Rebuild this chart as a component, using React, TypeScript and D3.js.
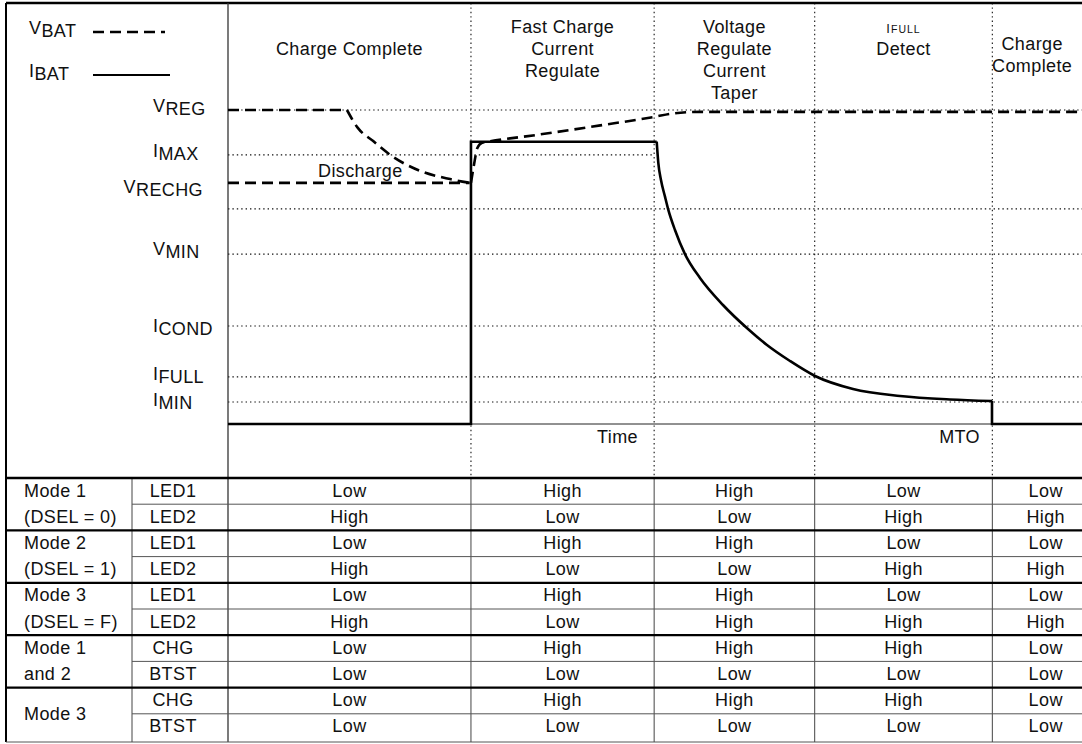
import * as d3 from 'd3'

const FONT = '"Liberation Sans", Arial, Helvetica, sans-serif'

// time axis in arbitrary units, level axis in % of VREG
const PHASE_EDGES = [0, 28.45, 49.9, 68.7, 89.5, 100]
const PHASE_TITLES = [
  ['Charge Complete'],
  ['Fast Charge', 'Current', 'Regulate'],
  ['Voltage', 'Regulate', 'Current', 'Taper'],
  ['IFULL', 'Detect'],
  ['Charge', 'Complete'],
]
const TITLE_BASELINE = [55, 33, 33, 33, 50]

const LEVEL_NAMES = [['V', 'REG'], ['I', 'MAX'], ['V', 'RECHG'], ['V', 'MIN'], ['I', 'COND'], ['I', 'FULL'], ['I', 'MIN']]
const LEVEL_VALUES = [100, 85.7, 76.8, 54.1, 31.2, 15.0, 7.0]
const LABEL_DY = [5, 5, 13, 4, 9, 6, 7]

const GRID_VALUES = [100, 85.7, 68.5, 54.1, 31.2, 15.0, 7.0]
const GRID_END = [100, 49.9, 100, 100, 100, 100, 100]

// IBAT (solid)
const IBAT_RISE: [number, number][] = [[0, 0], [28.45, 0], [28.45, 89.9], [50.2, 89.9]]
const IBAT_TAPER: [number, number][] = [
  [50.2, 89.9], [50.39, 83.1], [50.7, 77.7], [51.17, 72.4], [51.56, 68.2], [52.34, 61.8],
  [53.51, 54.1], [55.27, 46.5], [57.96, 37.9], [60.89, 30.25], [63.11, 25.16], [65.81, 20.06],
  [68.74, 15.29], [73.19, 11.15], [78.69, 8.92], [84.54, 7.8], [89.46, 7.3],
]
const IBAT_END: [number, number][] = [[89.46, 7.3], [89.46, 0], [100, 0]]

// VBAT (dashed)
const VBAT_HOLD: [number, number][] = [[0, 100], [13.93, 100]]
const VBAT_DISCHARGE: [number, number][] = [
  [13.93, 100], [15.2, 94.3], [17.0, 90.1], [19.0, 85.7], [22.8, 80.3], [26.0, 78.0], [28.3, 76.8],
]
const VRECHG_MARK: [number, number][] = [[0, 76.8], [28.3, 76.8]]
const VBAT_CHARGE: [number, number][] = [
  [28.45, 76.8], [28.8, 82.5], [29.2, 87.9], [29.7, 89.5], [30.7, 90.0], [36.5, 92.2],
  [43.6, 95.1], [49.9, 97.8], [52.1, 98.9], [55.3, 99.4], [100, 99.4],
]

const MODES = [['Mode 1', '(DSEL = 0)'], ['Mode 2', '(DSEL = 1)'], ['Mode 3', '(DSEL = F)'], ['Mode 1', 'and 2'], ['Mode 3']]
const SIGNALS = ['LED1', 'LED2', 'LED1', 'LED2', 'LED1', 'LED2', 'CHG', 'BTST', 'CHG', 'BTST']
const STATES = [
  ['Low', 'High', 'High', 'Low', 'Low'],
  ['High', 'Low', 'Low', 'High', 'High'],
  ['Low', 'High', 'High', 'Low', 'Low'],
  ['High', 'Low', 'Low', 'High', 'High'],
  ['Low', 'High', 'High', 'Low', 'Low'],
  ['High', 'Low', 'High', 'High', 'High'],
  ['Low', 'High', 'High', 'High', 'Low'],
  ['Low', 'Low', 'Low', 'Low', 'Low'],
  ['Low', 'High', 'High', 'High', 'Low'],
  ['Low', 'Low', 'Low', 'Low', 'Low'],
]

const W = 1082
const H = 744
const LEFT = 6
const TOP = 3
const PLOT_BOTTOM = 478
const MODE_COL = 132

export default function App() {
  const x = d3.scaleLinear().domain([0, 100]).range([228, 1082])
  const y = d3.scaleLinear().domain([0, 100]).range([424, 110])
  const rowY = d3.scaleBand<number>().domain(d3.range(SIGNALS.length)).range([PLOT_BOTTOM, 740])
  const rh = rowY.bandwidth()

  const line = d3.line<[number, number]>().x(d => x(d[0])).y(d => y(d[1]))
  const smooth = d3.line<[number, number]>().x(d => x(d[0])).y(d => y(d[1])).curve(d3.curveMonotoneX)

  const colCenter = (i: number) => (x(PHASE_EDGES[i]) + x(PHASE_EDGES[i + 1])) / 2
  const tableCenter = (i: number) => i === 4 ? (x(PHASE_EDGES[4]) + x(102)) / 2 : colCenter(i)
  const headerCenter = (i: number) => i === 4 ? colCenter(i) - 5 : colCenter(i)

  const dotted = { stroke: '#111', strokeWidth: 1.1, strokeDasharray: '1.4,3', fill: 'none' }
  const dashed = { stroke: '#000', strokeWidth: 2.6, strokeDasharray: '11,6', fill: 'none' }
  const txt = { fontFamily: FONT, fontSize: 18, letterSpacing: 0.4, fill: '#111' }

  let modeRow = 0
  const modeStarts = MODES.map(m => {
    const start = modeRow
    modeRow += 2
    return { start, lines: m }
  })

  return (
    <svg width={W} height={H} style={{ position: 'absolute', left: 0, top: 0, background: '#fff' }}>
      <rect x={0} y={0} width={W} height={H} fill="#fff" />

      {/* grid */}
      {GRID_VALUES.map((v, i) => (
        <line key={'g' + i} x1={x(0)} x2={x(GRID_END[i])} y1={y(v)} y2={y(v)} {...dotted} />
      ))}
      {PHASE_EDGES.slice(1, 5).map((t, i) => (
        <line key={'v' + i} x1={x(t)} x2={x(t)} y1={TOP} y2={PLOT_BOTTOM} {...dotted} />
      ))}
      <line x1={x(0)} x2={W} y1={y(0)} y2={y(0)} stroke="#222" strokeWidth={1} />

      {/* frame */}
      <line x1={LEFT} x2={W} y1={TOP} y2={TOP} stroke="#000" strokeWidth={2.5} />
      <line x1={LEFT} x2={LEFT} y1={TOP} y2={742} stroke="#000" strokeWidth={2} />
      <line x1={x(0)} x2={x(0)} y1={TOP} y2={742} stroke="#333" strokeWidth={1.3} />
      <line x1={LEFT} x2={W} y1={742} y2={742} stroke="#555" strokeWidth={1} />

      {/* legend */}
      <text x={29} y={34} {...txt}>V<tspan dy={3}>BAT</tspan></text>
      <line x1={93} x2={165} y1={32} y2={32} {...dashed} />
      <text x={29} y={77} {...txt}>I<tspan dy={3}>BAT</tspan></text>
      <line x1={93} x2={170} y1={75} y2={75} stroke="#000" strokeWidth={2.2} />

      {/* level labels */}
      {LEVEL_NAMES.map((n, i) => (
        <text key={'l' + i} x={n[1] === 'RECHG' ? 203 : 153} y={y(LEVEL_VALUES[i]) + LABEL_DY[i] - 3}
          textAnchor={n[1] === 'RECHG' ? 'end' : 'start'} {...txt}>
          {n[0]}<tspan dy={3}>{n[1]}</tspan>
        </text>
      ))}

      {/* phase titles */}
      {PHASE_TITLES.map((lines, i) => lines.map((s, j) => (
        s === 'IFULL' ? (
          <text key={'h' + i + j} x={headerCenter(i)} y={TITLE_BASELINE[i] + j * 22} textAnchor="middle"
            fontFamily={FONT} fill="#111" letterSpacing={1}>
            <tspan fontSize={13}>I</tspan><tspan fontSize={10.5}>FULL</tspan>
          </text>
        ) : (
          <text key={'h' + i + j} x={headerCenter(i)} y={TITLE_BASELINE[i] + j * 22} textAnchor="middle" {...txt}>{s}</text>
        )
      )))}

      {/* traces */}
      <path d={line(VRECHG_MARK) ?? ''} {...dashed} />
      <path d={line(VBAT_HOLD) ?? ''} {...dashed} />
      <path d={smooth(VBAT_DISCHARGE) ?? ''} {...dashed} />
      <path d={smooth(VBAT_CHARGE) ?? ''} {...dashed} />
      <path d={line(IBAT_RISE) ?? ''} stroke="#000" strokeWidth={2.6} fill="none" />
      <path d={smooth(IBAT_TAPER) ?? ''} stroke="#000" strokeWidth={2.6} fill="none" />
      <path d={line(IBAT_END) ?? ''} stroke="#000" strokeWidth={2.6} fill="none" />

      <text x={318} y={177} {...txt}>Discharge</text>
      <text x={638} y={443} textAnchor="end" {...txt}>Time</text>
      <text x={980} y={443} textAnchor="end" {...txt}>MTO</text>

      {/* table */}
      {PHASE_EDGES.slice(1, 5).map((t, i) => (
        <line key={'tv' + i} x1={x(t)} x2={x(t)} y1={PLOT_BOTTOM} y2={742} stroke="#444" strokeWidth={1} />
      ))}
      <line x1={MODE_COL} x2={MODE_COL} y1={PLOT_BOTTOM} y2={742} stroke="#444" strokeWidth={1} />
      {SIGNALS.map((s, r) => {
        const top = rowY(r) ?? 0
        return (
          <g key={'r' + r}>
            {r % 2 === 1 && <line x1={MODE_COL} x2={W} y1={top} y2={top} stroke="#555" strokeWidth={1} />}
            <text x={173} y={top + 18.5} textAnchor="middle" {...txt}>{s}</text>
            {STATES[r].map((v, c) => (
              <text key={c} x={tableCenter(c)} y={top + 18.5} textAnchor="middle" {...txt}>{v}</text>
            ))}
          </g>
        )
      })}
      {modeStarts.map((m, i) => {
        const top = rowY(m.start) ?? 0
        return (
          <g key={'m' + i}>
            <line x1={LEFT} x2={W} y1={top} y2={top} stroke="#000" strokeWidth={i === 0 ? 2.5 : 2.2} />
            {m.lines.length === 2
              ? m.lines.map((s, j) => <text key={j} x={24} y={top + 18.5 + j * rh} {...txt}>{s}</text>)
              : <text x={24} y={top + rh + 6.5} {...txt}>{m.lines[0]}</text>}
          </g>
        )
      })}
    </svg>
  )
}
